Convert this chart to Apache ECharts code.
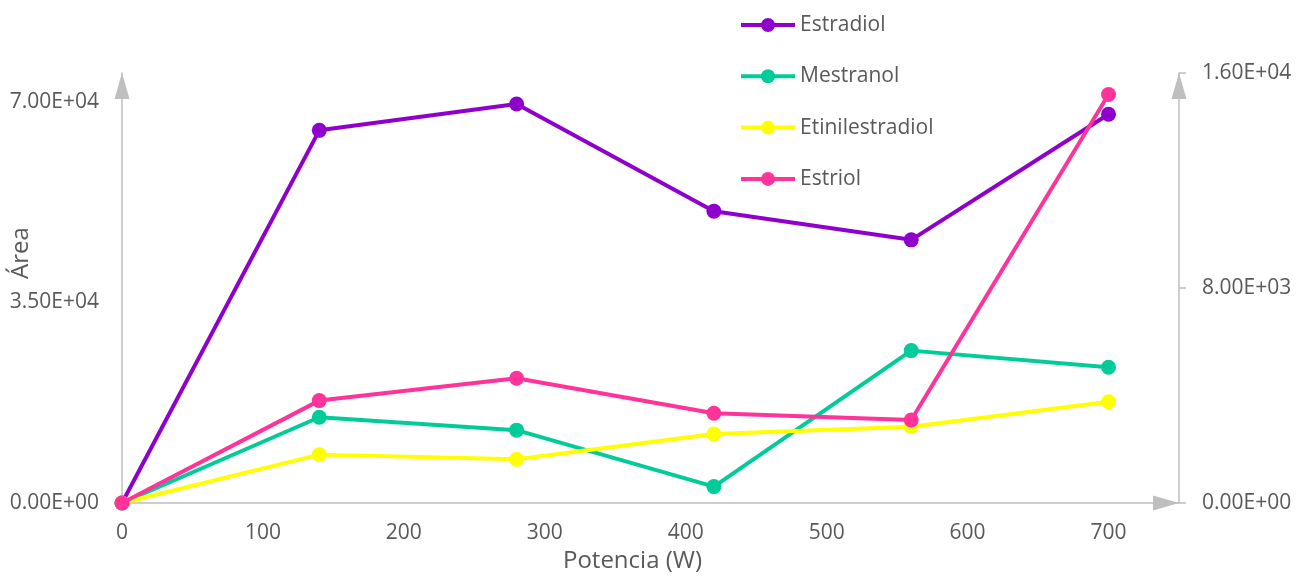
<!DOCTYPE html>
<html>
<head>
<meta charset="utf-8">
<style>
  html, body { margin: 0; padding: 0; background: #ffffff; }
  #chart { width: 1296px; height: 576px; }
</style>
<script src="https://cdn.jsdelivr.net/npm/echarts@6/dist/echarts.min.js"></script>
</head>
<body>
<div id="chart"></div>
<script>
// Microwave power (W) and peak areas per hormone
const potencia = [0, 140, 280, 420, 560, 700];
const estradiol = [0, 65000, 69600, 50900, 45900, 67800];
const mestranol = [0, 3190, 2710, 610, 5670, 5050];
const etinilestradiol = [0, 1800, 1630, 2570, 2840, 3770];
const estriol = [0, 3810, 4640, 3340, 3090, 15200];

const seriesNames = ['Estradiol', 'Mestranol', 'Etinilestradiol', 'Estriol'];
const seriesColors = ['#9000CC', '#00CC99', '#FFFF00', '#FF3399'];
const seriesValues = [estradiol, mestranol, etinilestradiol, estriol];
const seriesAxis = [0, 1, 1, 1];

const FONT = 'Open Sans';
const TEXT = '#595959';
const AXIS = '#BFBFBF';

function sci(v) {
  const parts = Number(v).toExponential(2).split('e');
  const exp = parseInt(parts[1], 10);
  const sign = exp < 0 ? '-' : '+';
  const digits = String(Math.abs(exp)).padStart(2, '0');
  return parts[0] + 'E' + sign + digits;
}

const arrowLine = {
  show: true,
  symbol: ['none', 'triangle'],
  symbolSize: [15, 26],
  symbolOffset: [0, -13],
  lineStyle: { color: AXIS, width: 1.5 }
};

const chart = echarts.init(document.getElementById('chart'));
chart.setOption({
  animation: false,
  backgroundColor: '#ffffff',
  textStyle: { fontFamily: FONT },
  grid: { left: 122, right: 117, top: 73, bottom: 73, containLabel: false, outerBoundsMode: 'none' },
  legend: {
    orient: 'vertical',
    left: 739,
    top: 14.5,
    padding: 0,
    itemWidth: 54,
    itemHeight: 17.5,
    itemGap: 30.3,
    lineStyle: { width: 4 },
    textStyle: { color: TEXT, fontSize: 21, fontFamily: FONT, lineHeight: 21 },
    data: seriesNames
  },
  xAxis: {
    type: 'value',
    min: 0,
    max: 750,
    interval: 100,
    name: 'Potencia (W)',
    nameLocation: 'middle',
    nameGap: 46,
    nameMoveOverlap: false,
    nameTextStyle: { color: TEXT, fontSize: 24, fontFamily: FONT, lineHeight: 24, padding: [0, 36, 0, 0] },
    axisLine: arrowLine,
    axisTick: { show: false },
    splitLine: { show: false },
    axisLabel: {
      color: TEXT, fontSize: 21, fontFamily: FONT, margin: 20,
      showMaxLabel: false,
      formatter: v => (v % 100 === 0 ? String(v) : '')
    }
  },
  yAxis: [
    {
      type: 'value',
      min: 0,
      max: 75000,
      interval: 35000,
      name: 'Área',
      nameLocation: 'middle',
      nameGap: 89,
      nameMoveOverlap: false,
      nameTextStyle: { color: TEXT, fontSize: 24, fontFamily: FONT, lineHeight: 24, padding: [0, 0, 0, 70] },
      axisLine: arrowLine,
      axisTick: { show: false },
      splitLine: { show: false },
      axisLabel: {
        color: TEXT, fontSize: 21, fontFamily: FONT, margin: 23,
        showMaxLabel: false,
        formatter: v => (v % 35000 === 0 ? sci(v) : '')
      }
    },
    {
      type: 'value',
      position: 'right',
      min: 0,
      max: 16000,
      interval: 8000,
      axisLine: arrowLine,
      axisTick: { show: true, length: 7, lineStyle: { color: AXIS, width: 1.5 } },
      splitLine: { show: false },
      axisLabel: {
        color: TEXT, fontSize: 21, fontFamily: FONT, margin: 23,
        formatter: v => sci(v)
      }
    }
  ],
  series: seriesNames.map((name, i) => ({
    name: name,
    type: 'line',
    yAxisIndex: seriesAxis[i],
    data: potencia.map((x, j) => [x, seriesValues[i][j]]),
    symbol: 'circle',
    symbolSize: 15,
    showSymbol: true,
    color: seriesColors[i],
    lineStyle: { color: seriesColors[i], width: 4 },
    itemStyle: { color: seriesColors[i] },
    z: 2 + i
  }))
});
</script>
</body>
</html>
